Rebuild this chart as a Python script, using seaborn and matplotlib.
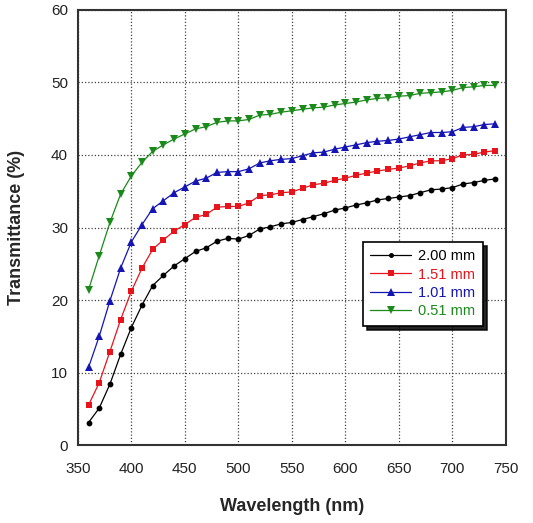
import numpy as np
import pandas as pd
import matplotlib
matplotlib.use("Agg")
import matplotlib.pyplot as plt
import seaborn as sns

# wavelengths 360..740 nm, 10 nm step
wavelength = list(range(360, 750, 10))

t_200 = [3.1, 5.1, 8.4, 12.5, 16.2, 19.3, 22.0, 23.4, 24.7, 25.7,
         26.7, 27.2, 28.1, 28.5, 28.4, 28.9, 29.8, 30.1, 30.5, 30.7,
         31.1, 31.5, 31.9, 32.4, 32.7, 33.1, 33.4, 33.8, 34.0, 34.2,
         34.4, 34.8, 35.2, 35.3, 35.5, 36.0, 36.2, 36.5, 36.7]
t_151 = [5.5, 8.6, 12.9, 17.3, 21.2, 24.4, 27.0, 28.3, 29.5, 30.4,
         31.4, 31.8, 32.8, 32.9, 32.9, 33.4, 34.4, 34.5, 34.8, 34.9,
         35.4, 35.9, 36.1, 36.5, 36.8, 37.2, 37.5, 37.8, 38.0, 38.2,
         38.5, 38.9, 39.2, 39.2, 39.5, 40.0, 40.1, 40.4, 40.6]
t_101 = [10.7, 15.0, 19.9, 24.4, 28.0, 30.4, 32.6, 33.7, 34.8, 35.6,
         36.4, 36.8, 37.6, 37.7, 37.7, 38.1, 38.9, 39.2, 39.4, 39.5,
         39.9, 40.3, 40.4, 40.8, 41.1, 41.4, 41.7, 41.9, 42.0, 42.2,
         42.5, 42.8, 43.1, 43.1, 43.2, 43.8, 43.9, 44.2, 44.3]
t_051 = [21.4, 26.1, 30.7, 34.6, 37.1, 39.0, 40.5, 41.4, 42.2, 42.9,
         43.6, 43.9, 44.5, 44.7, 44.7, 44.9, 45.5, 45.6, 45.9, 46.1,
         46.3, 46.5, 46.6, 46.9, 47.1, 47.3, 47.6, 47.8, 47.9, 48.1,
         48.2, 48.5, 48.6, 48.7, 48.9, 49.3, 49.4, 49.6, 49.6]

labels = ["2.00 mm", "1.51 mm", "1.01 mm", "0.51 mm"]
colors = ["black", "#e8141c", "#1515b4", "#1a8a1a"]
markers = ["o", "s", "^", "v"]
msizes = [4.2, 4.6, 6.2, 6.2]

frames = []
for lab, vals in zip(labels, [t_200, t_151, t_101, t_051]):
    frames.append(pd.DataFrame({"wl": wavelength, "T": vals, "sample": lab}))
df = pd.concat(frames, ignore_index=True)

sns.set_style("white")
plt.rcParams["font.family"] = ["Liberation Sans", "DejaVu Sans"]

fig = plt.figure(figsize=(5.33, 5.23), dpi=100)
ax = fig.add_axes([0.146, 0.149, 0.803, 0.832])

sns.lineplot(data=df, x="wl", y="T", hue="sample", style="sample",
             hue_order=labels, style_order=labels,
             palette=dict(zip(labels, colors)),
             markers=dict(zip(labels, markers)), dashes=False,
             markersize=5, linewidth=0.9, markeredgewidth=0,
             ax=ax, zorder=3, legend=False)

# per-series marker size (seaborn only takes one)
for line, ms in zip(ax.lines, msizes):
    line.set_markersize(ms)

ax.set_xlim(350, 750)
ax.set_ylim(0, 60)
ax.set_xticks(range(350, 751, 50))
ax.set_yticks(range(0, 61, 10))
ax.grid(True, linestyle=(0, (1, 1.6)), color="#444444", linewidth=0.9)
ax.tick_params(axis="both", direction="in", length=4, labelsize=11,
               colors="#222222")
ax.tick_params(axis="x", pad=12)
ax.tick_params(axis="y", pad=7)
for s in ax.spines.values():
    s.set_color("#333333")
    s.set_linewidth(1.5)

ax.set_xlabel("Wavelength (nm)", fontsize=13, fontweight="bold", labelpad=16)
ax.set_ylabel("Transmittance (%)", fontsize=13, fontweight="bold", labelpad=19)

handles = [plt.Line2D([], [], color=c, marker=m, markersize=ms * 0.85,
                      markeredgewidth=0, linewidth=0.9)
           for c, m, ms in zip(colors, markers, msizes)]
leg = ax.legend(handles, labels, loc="upper left",
                bbox_to_anchor=(0.666, 0.467), borderaxespad=0,
                fontsize=10.5, frameon=True, fancybox=False, edgecolor="black",
                labelcolor=colors, handlelength=2.8, borderpad=0.5,
                labelspacing=0.3, handletextpad=0.5,
                shadow={"ox": 3, "oy": -3, "color": "black", "alpha": 0.85})
leg.get_frame().set_linewidth(1.2)
leg.set_zorder(5)

fig.savefig("out.png", dpi=100)
